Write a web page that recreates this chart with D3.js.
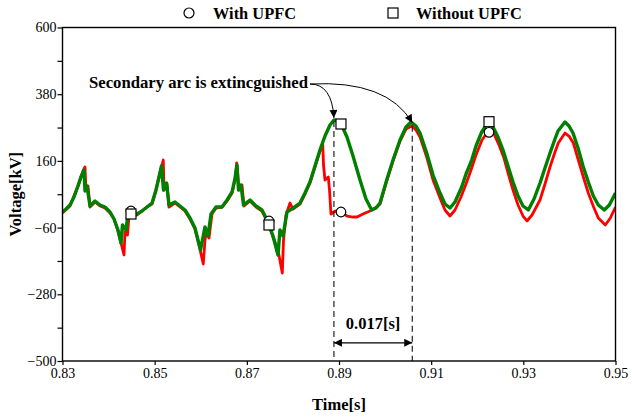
<!DOCTYPE html>
<html>
<head>
<meta charset="utf-8">
<script src="https://cdn.jsdelivr.net/npm/d3@7"></script>
<style>
html,body{margin:0;padding:0;background:#fff;}
svg{display:block;}
</style>
</head>
<body>
<svg id="chart" width="632" height="419"></svg>
<script>
// ---------- data ----------
const withoutT = [0.8300,0.83076,0.83163,0.8325,0.83336,0.83401,0.83467,0.83488,0.83532,0.83597,0.83705,0.83814,0.83922,0.84031,0.84118,0.84204,0.8427,0.84302,0.84378,0.84421,0.84486,0.84617,0.84725,0.84834,0.84943,0.85029,0.85094,0.85148,0.85192,0.85257,0.85311,0.85441,0.8555,0.85658,0.85767,0.85875,0.85962,0.85995,0.86092,0.86157,0.86223,0.86331,0.86461,0.86571,0.86679,0.86744,0.86787,0.86819,0.86873,0.86928,0.87069,0.87199,0.87329,0.87459,0.87568,0.87676,0.87719,0.87785,0.87872,0.88002,0.88153,0.88262,0.8837,0.88479,0.88587,0.88696,0.88805,0.88891,0.88978,0.89065,0.89173,0.89304,0.89456,0.89586,0.8971,0.89803,0.8989,0.90035,0.90172,0.90324,0.90454,0.90563,0.90671,0.90758,0.90903,0.9104,0.91192,0.913,0.91409,0.91517,0.91663,0.91756,0.9188,0.91973,0.92097,0.9224,0.92342,0.9245,0.92559,0.92667,0.92776,0.92885,0.92993,0.93108,0.93232,0.93362,0.9347,0.93579,0.93687,0.93752,0.93904,0.93991,0.94078,0.94187,0.94295,0.9441,0.94519,0.94627,0.94757,0.94866,0.95];
const withoutV = [-8.6,1.3,14.5,40.9,77.2,106.9,130.0,60.7,77.2,11.2,27.7,14.5,7.9,-8.6,-31.7,-67.9,-110.8,-51.4,-67.9,-15.2,-15.2,-15.2,-5.3,7.9,21.1,64.0,106.9,143.2,64.0,87.1,14.5,24.4,11.2,-2.0,-28.4,-61.3,-114.1,-133.9,-58.0,-87.7,-15.2,7.9,7.9,31.0,57.4,103.6,146.5,64.0,80.5,14.5,31.0,11.2,-2.0,-41.5,-87.7,-150.4,-67.9,-87.7,-8.6,4.6,21.1,54.1,90.4,143.2,195.9,242.1,278.4,294.9,291.6,275.1,238.8,176.1,97.0,34.3,-2.0,4.6,21.1,97.0,162.9,228.9,271.8,288.3,275.1,252.0,186.0,113.5,54.1,17.8,4.6,24.4,73.9,116.8,162.9,209.1,255.3,288.3,271.8,238.8,195.9,143.2,90.4,44.2,11.2,-2.0,34.3,87.1,136.6,186.0,232.2,258.6,288.3,275.1,252.0,202.5,143.2,90.4,44.2,14.5,-2.0,14.5,54.1];

const withT = [0.8300,0.83163,0.83336,0.83445,0.83488,0.8351,0.83553,0.83597,0.83705,0.83814,0.83922,0.84031,0.84118,0.84204,0.8427,0.84335,0.84356,0.84411,0.84443,0.84486,0.84617,0.84834,0.84943,0.85029,0.85094,0.85187,0.85203,0.85268,0.85311,0.85441,0.8555,0.85658,0.85767,0.85875,0.85962,0.86055,0.86092,0.86125,0.86179,0.86244,0.86331,0.86461,0.86571,0.86679,0.86744,0.8678,0.8683,0.86895,0.86938,0.87069,0.87199,0.87329,0.87459,0.87568,0.87676,0.8777,0.87796,0.8785,0.87937,0.88002,0.88153,0.88262,0.8837,0.88479,0.88587,0.88646,0.88664,0.88696,0.88768,0.88794,0.88826,0.88913,0.89043,0.89173,0.89304,0.89391,0.89521,0.89673,0.89818,0.8989,0.90035,0.90172,0.90324,0.90454,0.90578,0.90671,0.90758,0.90903,0.9104,0.91192,0.913,0.91409,0.91517,0.91647,0.91756,0.91865,0.91973,0.92103,0.92255,0.92363,0.92472,0.9258,0.92674,0.92776,0.92885,0.92993,0.9308,0.93189,0.93362,0.9347,0.93579,0.93687,0.93759,0.93904,0.93991,0.94085,0.94187,0.94302,0.9441,0.94525,0.94627,0.94779,0.94888,0.95];
const withV = [-11.9,11.2,77.2,126.7,139.9,64.0,77.2,7.9,24.4,11.2,4.6,-11.9,-31.7,-71.2,-110.8,-150.4,-74.5,-84.4,-21.8,-18.5,-18.5,7.9,17.8,64.0,106.9,162.9,64.0,83.8,7.9,21.1,7.9,-5.3,-31.7,-64.6,-117.4,-180.1,-100.9,-74.5,-94.3,-15.2,4.6,7.9,27.7,54.1,97.0,153.1,64.0,80.5,11.2,27.7,7.9,-5.3,-44.8,-91.0,-133.9,-209.8,-100.9,-18.5,21.1,1.3,17.8,50.8,87.1,139.9,192.6,219.0,146.5,97.0,106.9,64.0,-15.2,-5.3,-8.6,-21.8,-25.1,-25.1,-15.2,-5.3,7.9,17.8,93.7,159.7,225.6,265.2,275.1,261.9,238.8,172.8,97.0,37.6,-2.0,-21.8,-2.0,40.9,83.8,130.0,179.4,228.9,261.9,248.7,212.4,169.5,116.8,64.0,14.5,-21.8,-38.2,-18.5,31.0,83.8,139.9,189.3,219.0,252.0,242.1,219.0,166.2,106.9,54.1,7.9,-28.4,-51.4,-28.4,7.9];

const withMarkT = [0.84486,0.87481,0.89043,0.92255];
const withMarkV = [-5.3,-38.2,-8.6,254.3];
const withoutMarkT = [0.84486,0.87481,0.89043,0.92255];
const withoutMarkV = [-15.2,-51.4,281.7,289.3];

const xTicks = [0.83,0.85,0.87,0.89,0.91,0.93,0.95];
const yTicks = [-500,-280,-60,160,380,600];
const yMinor = [-390,-170,50,270,490];
const dashT = [0.8889,0.9059];
const dashTopV = [292,276];
const arrowV = -440;
const seriesNames = ["With UPFC","Without UPFC"];
const annText = "Secondary arc is extincguished";
const spanText = "0.017[s]";

// ---------- drawing ----------
const svg = d3.select("#chart");
const L = 62.5, R = 615.5, T = 27.5, B = 361;
const x = d3.scaleLinear().domain([0.83,0.95]).range([L,R]);
const y = d3.scaleLinear().domain([-500,600]).range([B,T]);
const serif = "'Liberation Serif','Times New Roman',serif";

const defs = svg.append("defs");
defs.append("marker").attr("id","ah").attr("viewBox","0 0 10 10")
  .attr("refX",10).attr("refY",5).attr("markerWidth",9).attr("markerHeight",8)
  .attr("markerUnits","userSpaceOnUse").attr("orient","auto-start-reverse")
  .append("path").attr("d","M0,0 L10,5 L0,10 Z").attr("fill","#000");
defs.append("clipPath").attr("id","clip").append("rect")
  .attr("x",L).attr("y",T).attr("width",R-L).attr("height",B-T);

// series
const line = d3.line().x(d=>x(d[0])).y(d=>y(d[1]));
const withData = withT.map((t,i)=>[t,withV[i]]);
const withoutData = withoutT.map((t,i)=>[t,withoutV[i]]);
const g = svg.append("g").attr("clip-path","url(#clip)");
g.append("path").datum(withData).attr("d",line)
  .attr("fill","none").attr("stroke","#ff0000").attr("stroke-width",2.8).attr("stroke-linejoin","round");
g.append("path").datum(withoutData).attr("d",line)
  .attr("fill","none").attr("stroke","#008000").attr("stroke-width",3.4).attr("stroke-linejoin","round");

// dashed lines
dashT.forEach((t,i)=>{
  svg.append("line").attr("x1",x(t)).attr("x2",x(t)).attr("y1",y(dashTopV[i])).attr("y2",B)
    .attr("stroke","#222").attr("stroke-width",1.2).attr("stroke-dasharray","6,4");
});

// markers
svg.append("g").selectAll("circle").data(withMarkT).join("circle")
  .attr("cx",(d)=>x(d)).attr("cy",(d,i)=>y(withMarkV[i])).attr("r",4.8)
  .attr("fill","#fff").attr("stroke","#000").attr("stroke-width",1.2);
svg.append("g").selectAll("rect").data(withoutMarkT).join("rect")
  .attr("x",(d)=>x(d)-5).attr("y",(d,i)=>y(withoutMarkV[i])-5).attr("width",10).attr("height",10)
  .attr("fill","#fff").attr("stroke","#000").attr("stroke-width",1.2);

// axes
svg.append("g").attr("transform",`translate(${L},0)`)
  .call(d3.axisLeft(y).tickValues(yTicks).tickSize(5).tickPadding(1).tickSizeOuter(0));
svg.append("g").attr("transform",`translate(${L},0)`)
  .call(d3.axisLeft(y).tickValues(yMinor).tickSize(5).tickFormat("").tickSizeOuter(0));
svg.append("g").attr("transform",`translate(0,${B})`)
  .call(d3.axisBottom(x).tickValues(xTicks).tickSize(4).tickPadding(3).tickFormat(d3.format(".2f")).tickSizeOuter(0));
svg.selectAll(".tick text").attr("font-family",serif).attr("font-size",14).attr("fill","#000");
svg.selectAll(".tick line").attr("stroke","#000").attr("stroke-width",1.2);
svg.selectAll(".domain").remove();
svg.append("rect").attr("x",L).attr("y",T).attr("width",R-L).attr("height",B-T)
  .attr("fill","none").attr("stroke","#000").attr("stroke-width",1.4);

// axis titles
svg.append("text").attr("x",(L+R)/2).attr("y",410).attr("text-anchor","middle")
  .attr("font-family",serif).attr("font-weight","bold").attr("font-size",16.5).text("Time[s]");
svg.append("text").attr("transform",`translate(21,${(T+B)/2}) rotate(-90)`).attr("text-anchor","middle")
  .attr("font-family",serif).attr("font-weight","bold").attr("font-size",16.5).text("Voltage[kV]");

// legend
const leg = svg.append("g");
leg.append("circle").attr("cx",189).attr("cy",13).attr("r",5)
  .attr("fill","#fff").attr("stroke","#000").attr("stroke-width",1.2);
leg.append("text").attr("x",213).attr("y",18.5).attr("font-family",serif).attr("font-weight","bold")
  .attr("font-size",16.4).text(seriesNames[0]);
leg.append("rect").attr("x",388).attr("y",8).attr("width",10).attr("height",10)
  .attr("fill","#fff").attr("stroke","#000").attr("stroke-width",1.2);
leg.append("text").attr("x",416).attr("y",18.5).attr("font-family",serif).attr("font-weight","bold")
  .attr("font-size",16.4).text(seriesNames[1]);

// annotation
svg.append("text").attr("x",89).attr("y",88).attr("font-family",serif).attr("font-weight","bold")
  .attr("font-size",16.7).text(annText);
const sx = 310, sy = 84;
const e1x = x(dashT[0]), e1y = y(dashTopV[0]) - 3;
const e2x = x(dashT[1]), e2y = y(dashTopV[1]) - 3;
svg.append("path").attr("d",`M${sx},${sy} Q${e1x-2},${sy} ${e1x},${e1y}`)
  .attr("fill","none").attr("stroke","#000").attr("stroke-width",1).attr("marker-end","url(#ah)");
svg.append("path").attr("d",`M${sx},${sy} Q${e2x-25},${sy-4} ${e2x},${e2y}`)
  .attr("fill","none").attr("stroke","#000").attr("stroke-width",1).attr("marker-end","url(#ah)");

// span arrow
svg.append("line").attr("x1",x(dashT[0])).attr("x2",x(dashT[1])).attr("y1",y(arrowV)).attr("y2",y(arrowV))
  .attr("stroke","#000").attr("stroke-width",1.2)
  .attr("marker-start","url(#ah)").attr("marker-end","url(#ah)");
svg.append("text").attr("x",(x(dashT[0])+x(dashT[1]))/2).attr("y",329).attr("text-anchor","middle")
  .attr("font-family",serif).attr("font-weight","bold").attr("font-size",16.5).text(spanText);
</script>
</body>
</html>
